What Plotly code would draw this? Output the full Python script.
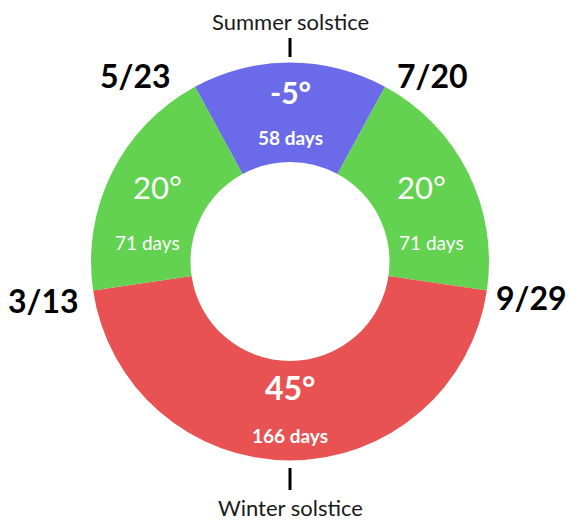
import math
import plotly.graph_objects as go

# Data (clockwise from the summer-solstice slice at the top)
segments = ["Summer", "Late summer", "Winter", "Spring"]
days = [58, 71, 166, 71]
degrees = ["-5°", "20°", "45°", "20°"]
colors = ["#6b6be9", "#62d250", "#e85252", "#62d250"]
boundary_dates = ["5/23", "7/20", "9/29", "3/13"]
solstices = ["Summer solstice", "Winter solstice"]

W, H = 570, 521
cx, cy, R = 290, 261.5, 199
HOLE = 0.5
FONT = "Lato"

# label styling per slice (offsets from slice centroid, px)
deg_bold = [True, False, True, False]
deg_size = [30, 31, 32, 31]
days_bold = [True, False, True, False]
days_size = [19, 19, 19, 19]
deg_off = [(0, -20), (-2, -8), (0, -23), (1, -8)]
days_off = [(0, 25), (8, 48), (0, 25), (-9, 48)]

total = sum(days)
rotation = -days[0] / total * 360 / 2

fig = go.Figure(go.Pie(
    labels=segments,
    values=days,
    textinfo="none",
    marker=dict(colors=colors, line=dict(width=0)),
    hole=HOLE,
    sort=False,
    direction="clockwise",
    rotation=rotation,
    showlegend=False,
    hoverinfo="skip",
    domain=dict(x=[(cx - R) / W, (cx + R) / W], y=[1 - (cy + R) / H, 1 - (cy - R) / H]),
))


def px(x, y):
    return x / W, 1 - y / H


annotations = []
# slice labels placed at each slice's centroid (angle from data)
start = rotation
r_mid = R * (1 + HOLE) / 2
for i, (d, n) in enumerate(zip(degrees, days)):
    span = n / total * 360
    mid = math.radians(start + span / 2)
    start += span
    sx = cx + r_mid * math.sin(mid)
    sy = cy - r_mid * math.cos(mid)
    t1 = f"<b>{d}</b>" if deg_bold[i] else d
    t2 = f"<b>{n} days</b>" if days_bold[i] else f"{n} days"
    for txt, size, (ox, oy) in [(t1, deg_size[i], deg_off[i]), (t2, days_size[i], days_off[i])]:
        ax, ay = px(sx + ox, sy + oy)
        annotations.append(dict(x=ax, y=ay, xref="paper", yref="paper", text=txt,
                                showarrow=False, font=dict(family=FONT, size=size, color="white"),
                                xanchor="center", yanchor="middle"))

date_pos = [(135, 75), (432, 75), (531, 297), (43, 300)]
for lab, (x, y) in zip(boundary_dates, date_pos):
    ax, ay = px(x, y)
    annotations.append(dict(x=ax, y=ay, xref="paper", yref="paper", text=f"<b>{lab}</b>",
                            showarrow=False, font=dict(family=FONT, size=32, color="black"),
                            xanchor="center", yanchor="middle"))
for lab, (x, y) in zip(solstices, [(290, 21), (290, 507)]):
    ax, ay = px(x, y)
    annotations.append(dict(x=ax, y=ay, xref="paper", yref="paper", text=lab,
                            showarrow=False, font=dict(family=FONT, size=22, color="#1a1a1a"),
                            xanchor="center", yanchor="middle"))

shapes = []
for y0, y1 in [(38, 57), (468, 490)]:
    shapes.append(dict(type="line", xref="paper", yref="paper", x0=cx / W, x1=cx / W,
                       y0=px(cx, y0)[1], y1=px(cx, y1)[1], line=dict(color="black", width=3)))

fig.update_layout(
    width=W, height=H,
    margin=dict(l=0, r=0, t=0, b=0),
    paper_bgcolor="white",
    plot_bgcolor="white",
    annotations=annotations,
    shapes=shapes,
)

fig.write_html("out.html", config={"displayModeBar": False},
               post_script="document.body.style.margin='0';")
